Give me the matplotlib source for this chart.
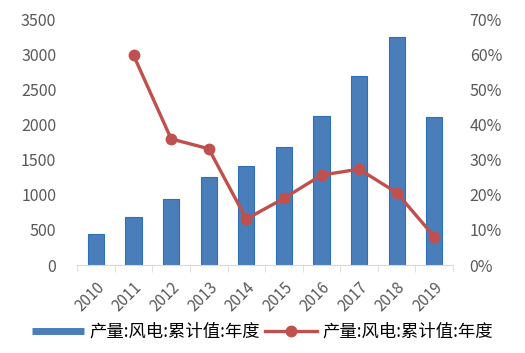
import matplotlib.pyplot as plt
from matplotlib.lines import Line2D
import numpy as np

plt.rcParams['font.family'] = ['Noto Sans CJK SC', 'DejaVu Sans']

years = ['2010', '2011', '2012', '2013', '2014', '2015', '2016', '2017', '2018', '2019']
output = [437, 687, 935, 1248, 1413, 1683, 2114, 2689, 3248, 2100]
growth_years = ['2011', '2012', '2013', '2014', '2015', '2016', '2017', '2018', '2019']
growth = [59.7, 35.9, 33.1, 13.1, 19.0, 25.6, 27.3, 20.6, 8.1]
label = '产量:风电:累计值:年度'

text_c = '#595959'
fig = plt.figure(figsize=(5.25, 3.53), dpi=100)
ax = fig.add_axes([0.147, 0.249, 0.716, 0.697])
x = np.arange(len(years))
ax.bar(x, output, width=0.43, color='#4a7ebb', edgecolor='#2e6fb5', linewidth=0.8)
ax.set_ylim(0, 3500)
ax.set_yticks(range(0, 3501, 500))
ax.set_xlim(-0.5, len(years) - 0.5)
ax.set_xticks(x)
ax.set_xticklabels(years, rotation=45, ha='right', rotation_mode='anchor')
ax.set_xticks(np.arange(-0.5, len(years)), minor=True)
ax.tick_params(axis='x', which='major', length=0, pad=10, labelsize=11, colors=text_c)
ax.tick_params(axis='x', which='minor', length=5, color='#d9d9d9')
ax.tick_params(axis='y', length=0, pad=15, labelsize=11.5, colors=text_c)
for s in ['top', 'left', 'right']:
    ax.spines[s].set_visible(False)
ax.spines['bottom'].set_color('#d9d9d9')

ax2 = ax.twinx()
gx = [years.index(y) for y in growth_years]
line, = ax2.plot(gx, growth, color='#c0504d', linewidth=2.4, marker='o', markersize=7.5)
ax2.set_ylim(0, 70)
ax2.set_yticks(range(0, 71, 10))
ax2.set_yticklabels([f'{v}%' for v in range(0, 71, 10)])
ax2.tick_params(axis='y', length=0, pad=12, labelsize=11.5, colors=text_c)
for s in ['top', 'left', 'right', 'bottom']:
    ax2.spines[s].set_visible(False)

bar_handle = Line2D([], [], color='#4a7ebb', linewidth=5, solid_capstyle='butt')
fig.legend([bar_handle, line], [label, label], loc='center', bbox_to_anchor=(0.5, 0.06), ncol=2,
           frameon=False, fontsize=12.5, handlelength=3.0, handletextpad=0.3, columnspacing=0.3,
           labelcolor='black')

fig.savefig('out.png', dpi=100)
